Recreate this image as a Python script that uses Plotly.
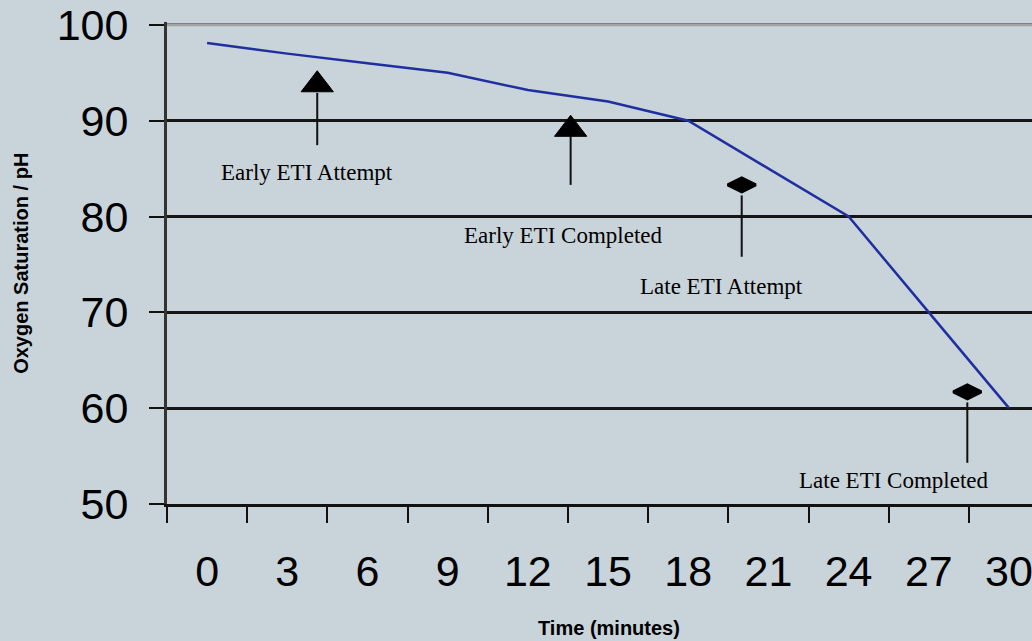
import plotly.graph_objects as go

# ---- data ----
time_min = [0, 3, 6, 9, 12, 15, 18, 21, 24, 27, 30]
oxygen_sat = [98.1, 97.0, 96.0, 95.0, 93.2, 92.0, 90.0, 85.0, 80.0, 70.0, 60.0]

x_tick_vals = [0, 3, 6, 9, 12, 15, 18, 21, 24, 27, 30]
x_tick_text = ["0", "3", "6", "9", "12", "15", "18", "21", "24", "27", "30"]
x_tick_bounds = [-1.5, 1.5, 4.5, 7.5, 10.5, 13.5, 16.5, 19.5, 22.5, 25.5, 28.5]
y_tick_vals = [50, 60, 70, 80, 90, 100]

event_labels = ["Early ETI Attempt", "Early ETI Completed", "Late ETI Attempt", "Late ETI Completed"]
event_times = [4.12, 13.6, 20.0, 28.44]
event_marker_values = [93.75, 89.1, 83.3, 61.7]
event_symbols = ["triangle-up", "triangle-up", "diamond-wide", "diamond-wide"]
stem_top = [92.9, 88.4, 82.2, 60.6]
stem_bottom = [87.45, 83.3, 75.8, 54.3]
label_times = [3.74, 13.33, 19.23, 25.7]
label_values = [84.6, 78.0, 72.75, 52.5]

# ---- styles ----
BG = "#c9d3da"
INK = "#111111"
marker_sizes = [28 if s.startswith("triangle") else 20 for s in event_symbols]
marker_lw = [1 if s.startswith("triangle") else 3 for s in event_symbols]

fig = go.Figure()

fig.add_trace(go.Scatter(
    x=time_min, y=oxygen_sat, mode="lines",
    line=dict(color="#1f2f9f", width=2.5), hoverinfo="skip"))

stem_x, stem_y = [], []
for t, a, b in zip(event_times, stem_top, stem_bottom):
    stem_x += [t, t, None]
    stem_y += [a, b, None]
fig.add_trace(go.Scatter(
    x=stem_x, y=stem_y, mode="lines",
    line=dict(color=INK, width=2), hoverinfo="skip"))

fig.add_trace(go.Scatter(
    x=event_times, y=event_marker_values, mode="markers",
    marker=dict(symbol=event_symbols, size=marker_sizes, color="#000000", opacity=1,
                line=dict(color="#000000", width=marker_lw)),
    hoverinfo="skip"))

for lab, t, v in zip(event_labels, label_times, label_values):
    fig.add_annotation(x=t, y=v, text=lab, showarrow=False,
                       xanchor="center", yanchor="middle",
                       font=dict(family="Liberation Serif", size=23, color="#000000"))

fig.add_annotation(xref="paper", yref="paper", x=0.511, y=-0.257,
                   text="<b>Time (minutes)</b>", showarrow=False,
                   xanchor="center", yanchor="middle",
                   font=dict(family="Liberation Sans", size=20, color="#000000"))
fig.add_annotation(xref="paper", yref="paper", x=-0.169, y=0.5,
                   text="<b>Oxygen Saturation / pH</b>", showarrow=False,
                   textangle=-90, xanchor="center", yanchor="middle",
                   font=dict(family="Liberation Sans", size=20, color="#000000"))

# top (100) line is lighter grey in the reference
fig.add_shape(type="line", xref="paper", x0=0, x1=1, yref="y",
              y0=y_tick_vals[-1], y1=y_tick_vals[-1],
              line=dict(color="#a3a3a3", width=3), layer="above")

fig.update_layout(
    width=1032, height=641,
    margin=dict(l=167, r=0, t=22, b=137),
    paper_bgcolor=BG, plot_bgcolor=BG,
    showlegend=False,
    xaxis=dict(
        range=[-1.5, 30.86], tickmode="array", tickvals=x_tick_vals, ticktext=x_tick_text,
        ticks="", showgrid=False, zeroline=False, showline=True,
        linecolor=INK, linewidth=3, automargin=False,
        tickfont=dict(family="Liberation Sans", size=43, color="#000000"),
        ticklabelstandoff=27, ticklabeloverflow="allow",
        minor=dict(tickmode="array", tickvals=x_tick_bounds, ticks="outside",
                   ticklen=16, tickwidth=2, tickcolor=INK, showgrid=False),
    ),
    yaxis=dict(
        range=[50, 100.3], tickmode="array", tickvals=y_tick_vals,
        ticks="outside", ticklen=15, tickwidth=2, tickcolor=INK,
        showline=True, linecolor="#333333", linewidth=3,
        showgrid=True, gridcolor="#151515", gridwidth=3, zeroline=False,
        automargin=False,
        tickfont=dict(family="Liberation Sans", size=43, color="#000000"),
        ticklabelstandoff=12,
    ),
)

fig.write_html("out.html",
               config={"displayModeBar": False},
               post_script="document.body.style.margin='0px';document.body.style.overflow='hidden';")
